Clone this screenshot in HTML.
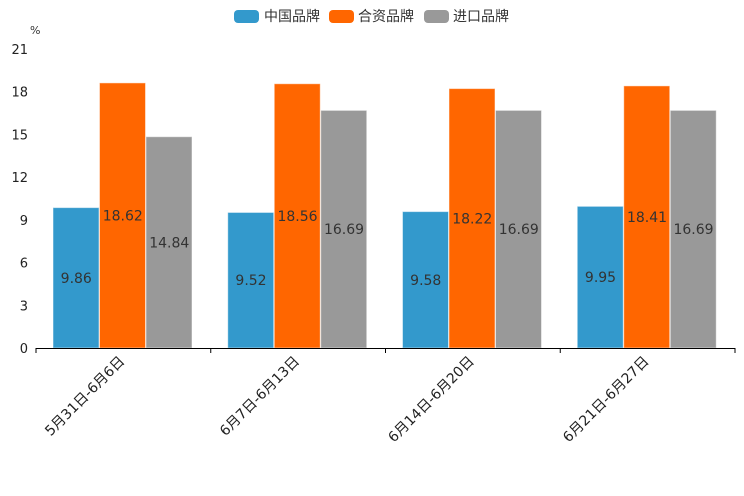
<!DOCTYPE html>
<html><head><meta charset="utf-8"><style>
body{margin:0;background:#fff;}
svg{display:block;font-family:"DejaVu Sans","Liberation Sans","Noto Sans CJK SC",sans-serif;}
</style></head><body>
<svg id="c" width="744" height="496">
<g>
<g><rect x="234" y="10" width="25" height="13" rx="4" fill="#3399cc"/><text x="264" y="21" font-size="14" fill="#333" font-family="Noto Sans CJK SC,sans-serif">中国品牌</text></g>
<g><rect x="329" y="10" width="25" height="13" rx="4" fill="#ff6600"/><text x="358" y="21" font-size="14" fill="#333" font-family="Noto Sans CJK SC,sans-serif">合资品牌</text></g>
<g><rect x="424" y="10" width="25" height="13" rx="4" fill="#999999"/><text x="453" y="21" font-size="14" fill="#333" font-family="Noto Sans CJK SC,sans-serif">进口品牌</text></g>
</g>
<text x="30" y="34" font-size="11" fill="#333">%</text>
</svg>
<script>
const categories=["5月31日-6月6日","6月7日-6月13日","6月14日-6月20日","6月21日-6月27日"];
const chinaValues=[9.86,9.52,9.58,9.95];
const jvValues=[18.62,18.56,18.22,18.41];
const importValues=[14.84,16.69,16.69,16.69];
const yTicks=[0,3,6,9,12,15,18,21];
const NS="http://www.w3.org/2000/svg",svg=document.getElementById('c');
const x0=36,x1=735,y0=348,y1=49,yMax=21;
const y=v=>y0-(v/yMax)*(y0-y1);
const gw=(x1-x0)/categories.length;
function mk(t,a,p){const e=document.createElementNS(NS,t);for(const k in a)e.setAttribute(k,a[k]);(p||svg).appendChild(e);return e;}
yTicks.forEach(t=>{const e=mk('text',{x:28,y:y(t)+5,'font-size':13,fill:'#222','text-anchor':'end'});e.textContent=t;

});
const series=[[chinaValues,'#3399cc','china'],[jvValues,'#ff6600','jv'],[importValues,'#999999','import']];
const bw=46.5;
categories.forEach((c,i)=>{
  const gx=x0+i*gw+17;
  series.forEach((s,j)=>{
    const v=s[0][i],bx=gx+j*bw,by=y(v);
    const r=mk('rect',{x:bx,y:by,width:bw-0.5,height:y0-by,fill:s[1],stroke:'rgba(255,255,255,0.5)','stroke-width':1});
    
    
    const t=mk('text',{x:bx+bw/2,y:(by+y0)/2+5,'font-size':14,fill:'#333','text-anchor':'middle'});t.textContent=v.toFixed(2);
    
    
  });
  const cx=x0+i*gw+gw/2;
  const lt=mk('text',{x:cx+2,y:362,'font-size':14,fill:'#222','text-anchor':'end',transform:`rotate(-45 ${cx+2} 362)`,'font-family':'DejaVu Sans,Noto Sans CJK SC,sans-serif'});lt.textContent=c;
  
  
});
for(let i=0;i<=categories.length;i++){const tx=Math.min(x0+i*gw,x1);const l=mk('line',{x1:tx,x2:tx,y1:y0,y2:y0+5,stroke:'#000'});

}
const ax=mk('line',{x1:x0,x2:x1,y1:y0+0.5,y2:y0+0.5,stroke:'#000'});


</script>
</body></html>
